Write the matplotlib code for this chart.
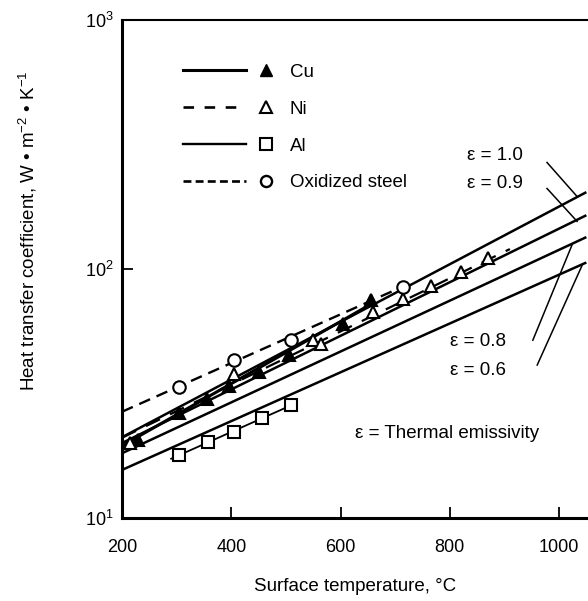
import matplotlib
matplotlib.use('Agg')
import matplotlib.pyplot as plt
from matplotlib.lines import Line2D
from matplotlib.legend_handler import HandlerBase
from matplotlib.ticker import LogLocator, NullLocator, FixedLocator

plt.rcParams['font.family'] = ['Liberation Sans', 'DejaVu Sans']
plt.rcParams['mathtext.fontset'] = 'custom'
plt.rcParams['mathtext.rm'] = 'Liberation Sans'
plt.rcParams['mathtext.it'] = 'Liberation Sans:italic'

# emissivity lines (end points)
eps_t = [200, 1050]
eps_10 = [21.1, 203]
eps_09 = [20.0, 164]
eps_08 = [18.2, 134]
eps_06 = [15.6, 106]

# measured points
cu_t = [230, 305, 355, 395, 450, 505, 605, 655]
cu_h = [20.5, 26.5, 30, 34, 38.5, 45, 60, 75]
ni_t = [215, 405, 550, 565, 660, 715, 765, 820, 870]
ni_h = [20, 38, 52, 50, 67, 76, 85, 97, 110]
al_t = [305, 357, 405, 457, 509]
al_h = [17.9, 20.2, 22.2, 25.1, 28.3]
ox_t = [305, 405, 510, 715]
ox_h = [33.6, 43, 51.6, 84.5]

# fitted lines through the points
cu_fit_t = [200, 660]
cu_fit_h = [19.5, 73]
ni_fit_t = [200, 910]
ni_fit_h = [21, 120]
al_fit_t = [290, 520]
al_fit_h = [17.3, 29.0]
ox_fit_t = [200, 720]
ox_fit_h = [26.7, 86]

xticks = [200, 400, 600, 800, 1000]


class LineThenMarker(HandlerBase):
    # line on the left part of the handle, marker at the right end
    def create_artists(self, legend, h, xd, yd, width, height, fontsize, trans):
        y = height / 2 - yd
        seg = Line2D([-xd, -xd + 0.70 * width], [y, y])
        seg.update_from(h)
        seg.set_marker('None')
        seg.set_transform(trans)
        dot = Line2D([-xd + 0.93 * width], [y])
        dot.update_from(h)
        dot.set_linestyle('None')
        dot.set_transform(trans)
        return [seg, dot]


fig = plt.figure(figsize=(5.88, 6.01), dpi=100)
ax = fig.add_axes([0.2075, 0.138, 0.7925, 0.8295])

for h in [eps_10, eps_09, eps_08, eps_06]:
    ax.plot(eps_t, h, color='black', lw=1.8, solid_capstyle='butt')

ax.plot(cu_fit_t, cu_fit_h, color='black', lw=2.2)
ax.plot(ni_fit_t, ni_fit_h, color='black', lw=1.6, dashes=(7, 5))
ax.plot(al_fit_t, al_fit_h, color='black', lw=1.3)
ax.plot(ox_fit_t, ox_fit_h, color='black', lw=1.7, dashes=(5, 3))

mk = dict(linestyle='none', markeredgecolor='black', markeredgewidth=1.5, markersize=9)
ax.plot(cu_t, cu_h, marker='^', markerfacecolor='black', **mk)
ax.plot(ni_t, ni_h, marker='^', markerfacecolor='white', **mk)
ax.plot(al_t, al_h, marker='s', markerfacecolor='white', **mk)
ax.plot(ox_t, ox_h, marker='o', markerfacecolor='white', **mk)

ax.set_yscale('log')
ax.set_xlim(200, 1053)
ax.set_ylim(10, 1000)
ax.xaxis.set_major_locator(FixedLocator(xticks))
ax.yaxis.set_major_locator(LogLocator(base=10))
ax.yaxis.set_minor_locator(NullLocator())
ax.tick_params(direction='in', length=8, width=1.3, labelsize=13)
ax.tick_params(axis='x', pad=15)
ax.tick_params(axis='y', pad=6)

for s in ['left', 'bottom']:
    ax.spines[s].set_linewidth(2.2)
ax.spines['top'].set_linewidth(1.5)
ax.spines['right'].set_visible(False)

ax.set_xlabel('Surface temperature, °C', fontsize=13.5, labelpad=16)
ax.set_ylabel('Heat transfer coefficient, W • m$^{-2}$ • K$^{-1}$', fontsize=13.5)
ax.yaxis.set_label_coords(-0.178, 0.576)

# emissivity labels with pointer lines
tk = dict(fontsize=13.5, va='center', ha='left')
ax.text(832, 285, 'ε = 1.0', **tk)
ax.text(832, 220, 'ε = 0.9', **tk)
ax.text(801, 50.9, 'ε = 0.8', **tk)
ax.text(801, 39.2, 'ε = 0.6', **tk)
ax.text(627, 21.9, 'ε = Thermal emissivity', **tk)
pk = dict(color='black', lw=1.1)
ax.plot([978, 1033], [267, 195], **pk)
ax.plot([978, 1033], [210, 155], **pk)
ax.plot([952, 1024], [51.7, 125], **pk)
ax.plot([960, 1042], [41.1, 103], **pk)

handles = [
    Line2D([], [], color='black', lw=2.2, marker='^', markerfacecolor='black',
           markeredgecolor='black', markersize=9),
    Line2D([], [], color='black', lw=1.9, dashes=(4, 4), marker='^', markerfacecolor='white',
           markeredgecolor='black', markeredgewidth=1.5, markersize=9),
    Line2D([], [], color='black', lw=1.7, marker='s', markerfacecolor='white',
           markeredgecolor='black', markeredgewidth=1.5, markersize=9),
    Line2D([], [], color='black', lw=1.9, dashes=(3, 1.6), marker='o', markerfacecolor='white',
           markeredgecolor='black', markeredgewidth=1.7, markersize=8),
]
labels = ['Cu', 'Ni', 'Al', 'Oxidized steel']
ax.legend(handles, labels, handler_map={Line2D: LineThenMarker()}, loc='upper left',
          bbox_to_anchor=(0.11, 0.93), frameon=False, fontsize=13.5,
          handlelength=4.8, handletextpad=0.9, labelspacing=1.05, borderpad=0)

fig.savefig('out.png', dpi=100)
